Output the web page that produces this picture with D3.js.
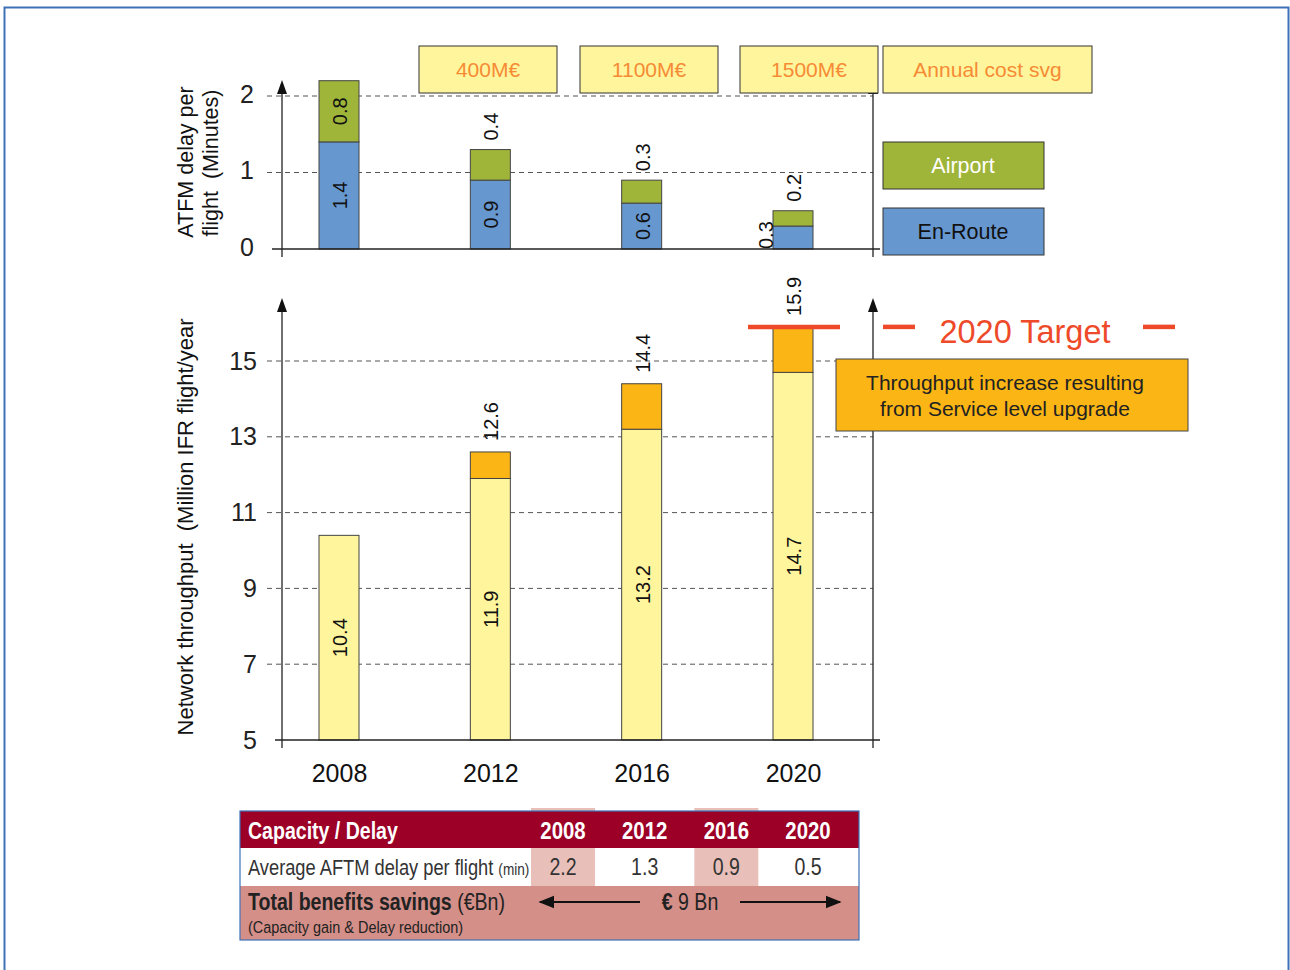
<!DOCTYPE html>
<html>
<head>
<meta charset="utf-8">
<script src="https://cdn.jsdelivr.net/npm/d3@7"></script>
<style>
  body { margin: 0; background: #fff; }
  svg text { font-family: "Liberation Sans", Arial, sans-serif; }
</style>
</head>
<body>
<div id="chart"></div>
<script>
// chart values
var years = ["2008", "2012", "2016", "2020"];
var enRoute = [1.4, 0.9, 0.6, 0.3];
var airport = [0.8, 0.4, 0.3, 0.2];
var throughputBase = [10.4, 11.9, 13.2, 14.7];
var throughputGain = [0, 0.7, 1.2, 1.2];
var target2020 = 15.9;
var costLabels = ["400M€", "1100M€", "1500M€", "Annual cost svg"];
var delayTicks = [0, 1, 2];
var throughputTicks = [5, 7, 9, 11, 13, 15];
var avgDelay = [2.2, 1.3, 0.9, 0.5];
var savingsLabel = "9 Bn";

var W = 1290, H = 970;
var cBlue = "#6797cf", cGreen = "#9fb53a", cLight = "#fff59c", cOrange = "#fbb515";
var cCost = "#f68b35", cRed = "#ee4a2a";

var svg = d3.select("#chart").append("svg")
    .attr("width", W).attr("height", H);

// outer frame
svg.append("rect")
    .attr("x", 4.5).attr("y", 7.5).attr("width", 1284).attr("height", 1000)
    .attr("fill", "none").attr("stroke", "#3d72b8").attr("stroke-width", 2);

var x = d3.scalePoint().domain(years).range([339, 793]);
var barW = 40;
var axisX = 282, axisR = 873;
var fmt = d3.format(".1f");

var defs = svg.append("defs");
defs.append("marker").attr("id", "arr")
    .attr("viewBox", "0 0 10 10").attr("refX", 9).attr("refY", 5)
    .attr("markerWidth", 8).attr("markerHeight", 8).attr("orient", "auto")
    .append("path").attr("d", "M0,1 L10,5 L0,9 Z").attr("fill", "#111");

function yAxisLine(g, yBottom, yTop, xx) {
    g.append("line").attr("x1", xx).attr("x2", xx).attr("y1", yBottom).attr("y2", yTop + 10)
        .attr("stroke", "#222").attr("stroke-width", 1.3);
    g.append("path")
        .attr("d", "M" + (xx - 5) + "," + (yTop + 14) + " L" + xx + "," + yTop + " L" + (xx + 5) + "," + (yTop + 14) + " Z")
        .attr("fill", "#111");
}

// condensed text for the table (no narrow font installed, so squeeze it)
function narrow(g, xx, yy, size) {
    return g.append("text")
        .attr("transform", "translate(" + xx + "," + yy + ") scale(0.85,1)")
        .style("font-size", size + "px");
}

// ---------------- top chart: ATFM delay ----------------
var yTop = d3.scaleLinear().domain([0, 2]).range([249, 96]);
var gTop = svg.append("g");

gTop.selectAll(".grid").data(delayTicks.filter(function (d) { return d > 0; }))
    .enter().append("line")
    .attr("x1", 267).attr("x2", axisR)
    .attr("y1", function (d) { return yTop(d); }).attr("y2", function (d) { return yTop(d); })
    .attr("stroke", "#555").attr("stroke-dasharray", "5,4").attr("stroke-width", 1);

gTop.append("g")
    .attr("transform", "translate(257,-2)")
    .call(d3.axisLeft(yTop).tickValues(delayTicks).tickSize(0).tickFormat(d3.format("d")))
    .call(function (g) { g.select(".domain").remove(); })
    .selectAll("text")
    .style("font-size", "25px").attr("fill", "#222")
    .style("font-family", "'Liberation Sans', Arial, sans-serif");

var delayData = years.map(function (y, i) {
    return {year: y, en: enRoute[i], ap: airport[i]};
});

var dg = gTop.selectAll(".dbar").data(delayData).enter().append("g");
dg.append("rect")
    .attr("x", function (d) { return x(d.year) - barW / 2; })
    .attr("y", function (d) { return yTop(d.en); })
    .attr("width", barW)
    .attr("height", function (d) { return yTop(0) - yTop(d.en); })
    .attr("fill", cBlue).attr("stroke", "#444").attr("stroke-width", 1);
dg.append("rect")
    .attr("x", function (d) { return x(d.year) - barW / 2; })
    .attr("y", function (d) { return yTop(d.en + d.ap); })
    .attr("width", barW)
    .attr("height", function (d) { return yTop(d.en) - yTop(d.en + d.ap); })
    .attr("fill", cGreen).attr("stroke", "#444").attr("stroke-width", 1);

// en-route labels: inside when there is room, else next to the bar
dg.append("text")
    .attr("transform", function (d) {
        var h = yTop(0) - yTop(d.en);
        if (h > 40) return "translate(" + (x(d.year) + 1) + "," + (yTop(d.en / 2)) + ") rotate(-90)";
        return "translate(" + (x(d.year) - barW / 2 - 7) + "," + yTop(0) + ") rotate(-90)";
    })
    .attr("text-anchor", function (d) { return (yTop(0) - yTop(d.en)) > 40 ? "middle" : "start"; })
    .attr("dominant-baseline", "central")
    .style("font-size", "20px").attr("fill", "#111")
    .text(function (d) { return fmt(d.en); });

// airport labels
dg.append("text")
    .attr("transform", function (d) {
        var h = yTop(d.en) - yTop(d.en + d.ap);
        if (h > 40) return "translate(" + (x(d.year) + 1) + "," + yTop(d.en + d.ap / 2) + ") rotate(-90)";
        return "translate(" + (x(d.year) + 1) + "," + (yTop(d.en + d.ap) - 9) + ") rotate(-90)";
    })
    .attr("text-anchor", function (d) { return (yTop(d.en) - yTop(d.en + d.ap)) > 40 ? "middle" : "start"; })
    .attr("dominant-baseline", "central")
    .style("font-size", "20px").attr("fill", "#111")
    .text(function (d) { return fmt(d.ap); });

// baseline + axes
gTop.append("line").attr("x1", 272).attr("x2", 880).attr("y1", yTop(0)).attr("y2", yTop(0))
    .attr("stroke", "#222").attr("stroke-width", 1.3);
yAxisLine(gTop, 257, 80, axisX);
yAxisLine(gTop, 257, 80, axisR);

gTop.append("text")
    .attr("transform", "translate(193,162) rotate(-90)")
    .attr("text-anchor", "middle").style("font-size", "21.5px").attr("fill", "#111")
    .text("ATFM delay per");
gTop.append("text")
    .attr("transform", "translate(218,163) rotate(-90)")
    .attr("text-anchor", "middle").style("font-size", "21.5px").attr("fill", "#111")
    .attr("xml:space", "preserve")
    .text("flight  (Minutes)");

// annual cost boxes
var costBoxes = [
    {x: 419, w: 138}, {x: 580, w: 138}, {x: 740, w: 138}, {x: 883, w: 209}
];
var cb = gTop.selectAll(".cost").data(costLabels).enter().append("g");
cb.append("rect")
    .attr("x", function (d, i) { return costBoxes[i].x; }).attr("y", 46)
    .attr("width", function (d, i) { return costBoxes[i].w; }).attr("height", 47)
    .attr("fill", cLight).attr("stroke", "#333").attr("stroke-width", 1);
cb.append("text")
    .attr("x", function (d, i) { return costBoxes[i].x + costBoxes[i].w / 2; }).attr("y", 77)
    .attr("text-anchor", "middle").style("font-size", "21px").attr("fill", cCost)
    .text(function (d) { return d; });

// legend
var legend = [{name: "Airport", fill: cGreen, text: "#fff", y: 142}, {name: "En-Route", fill: cBlue, text: "#111", y: 208}];
var lg = gTop.selectAll(".leg").data(legend).enter().append("g");
lg.append("rect").attr("x", 883).attr("y", function (d) { return d.y; })
    .attr("width", 161).attr("height", 47)
    .attr("fill", function (d) { return d.fill; }).attr("stroke", "#333").attr("stroke-width", 1);
lg.append("text").attr("x", 963).attr("y", function (d) { return d.y + 31; })
    .attr("text-anchor", "middle").style("font-size", "21.5px")
    .attr("fill", function (d) { return d.text; })
    .text(function (d) { return d.name; });

// ---------------- bottom chart: throughput ----------------
var yBot = d3.scaleLinear().domain([5, 15]).range([740, 361]);
var bot = svg.append("g");

bot.selectAll(".grid").data(throughputTicks.filter(function (d) { return d > 5; }))
    .enter().append("line")
    .attr("x1", 267).attr("x2", axisR)
    .attr("y1", function (d) { return yBot(d); }).attr("y2", function (d) { return yBot(d); })
    .attr("stroke", "#555").attr("stroke-dasharray", "5,4").attr("stroke-width", 1);

bot.append("g")
    .attr("transform", "translate(260,0)")
    .call(d3.axisLeft(yBot).tickValues(throughputTicks).tickSize(0).tickFormat(d3.format("d")))
    .call(function (g) { g.select(".domain").remove(); })
    .selectAll("text")
    .style("font-size", "25px").attr("fill", "#222")
    .style("font-family", "'Liberation Sans', Arial, sans-serif");

var tpData = years.map(function (y, i) {
    return {year: y, base: throughputBase[i], gain: throughputGain[i]};
});
var tg = bot.selectAll(".tbar").data(tpData).enter().append("g");
tg.append("rect")
    .attr("x", function (d) { return x(d.year) - barW / 2; })
    .attr("y", function (d) { return yBot(d.base); })
    .attr("width", barW)
    .attr("height", function (d) { return yBot(5) - yBot(d.base); })
    .attr("fill", cLight).attr("stroke", "#444").attr("stroke-width", 1);
tg.filter(function (d) { return d.gain > 0; }).append("rect")
    .attr("x", function (d) { return x(d.year) - barW / 2; })
    .attr("y", function (d) { return yBot(d.base + d.gain); })
    .attr("width", barW)
    .attr("height", function (d) { return yBot(d.base) - yBot(d.base + d.gain); })
    .attr("fill", cOrange).attr("stroke", "#444").attr("stroke-width", 1);
tg.append("text")
    .attr("transform", function (d) {
        return "translate(" + (x(d.year) + 1) + "," + yBot((d.base + 5) / 2) + ") rotate(-90)";
    })
    .attr("text-anchor", "middle").attr("dominant-baseline", "central")
    .style("font-size", "20px").attr("fill", "#111")
    .text(function (d) { return fmt(d.base); });
tg.filter(function (d) { return d.gain > 0; }).append("text")
    .attr("transform", function (d) {
        return "translate(" + (x(d.year) + 1) + "," + (yBot(d.base + d.gain) - 11) + ") rotate(-90)";
    })
    .attr("text-anchor", "start").attr("dominant-baseline", "central")
    .style("font-size", "20px").attr("fill", "#111")
    .text(function (d) { return fmt(d.base + d.gain); });

bot.append("line").attr("x1", 275).attr("x2", 880).attr("y1", yBot(5)).attr("y2", yBot(5))
    .attr("stroke", "#222").attr("stroke-width", 1.3);
yAxisLine(bot, 748, 298, axisX);
yAxisLine(bot, 748, 298, axisR);

// x axis labels
bot.append("g")
    .attr("transform", "translate(0,761)")
    .call(d3.axisBottom(x).tickSize(0))
    .call(function (g) { g.select(".domain").remove(); })
    .selectAll("text")
    .style("font-size", "25px").attr("fill", "#111")
    .style("font-family", "'Liberation Sans', Arial, sans-serif");

bot.append("text")
    .attr("transform", "translate(193,527) rotate(-90)")
    .attr("text-anchor", "middle").style("font-size", "22px").attr("fill", "#111")
    .attr("xml:space", "preserve")
    .text("Network throughput  (Million IFR flight/year");

// 2020 target
var tY = yBot(target2020);
bot.append("line").attr("x1", 748).attr("x2", 840).attr("y1", tY).attr("y2", tY)
    .attr("stroke", cRed).attr("stroke-width", 4.5);
bot.append("line").attr("x1", 883).attr("x2", 915).attr("y1", tY).attr("y2", tY)
    .attr("stroke", cRed).attr("stroke-width", 4.5);
bot.append("line").attr("x1", 1143).attr("x2", 1175).attr("y1", tY).attr("y2", tY)
    .attr("stroke", cRed).attr("stroke-width", 4.5);
bot.append("text").attr("x", 1025).attr("y", tY + 16)
    .attr("text-anchor", "middle").style("font-size", "32.5px").attr("fill", cRed)
    .text("2020 Target");

// gain note
bot.append("rect").attr("x", 836).attr("y", 359).attr("width", 352).attr("height", 72)
    .attr("fill", cOrange).attr("stroke", "#444").attr("stroke-width", 1);
bot.append("text").attr("x", 1005).attr("y", 390)
    .attr("text-anchor", "middle").style("font-size", "21px").attr("fill", "#222")
    .text("Throughput increase resulting");
bot.append("text").attr("x", 1005).attr("y", 416)
    .attr("text-anchor", "middle").style("font-size", "21px").attr("fill", "#222")
    .text("from Service level upgrade");

// ---------------- table ----------------
var tb = svg.append("g");
var colX = d3.scalePoint().domain(years).range([563, 808]);
var tL = 240, tR = 859, tTop = 811;
var pinkCols = ["2008", "2016"];

tb.selectAll(".pk").data(pinkCols).enter().append("rect")
    .attr("x", function (d) { return colX(d) - 32; }).attr("y", 808)
    .attr("width", 64).attr("height", 78).attr("fill", "#e8c0b9");
tb.append("rect").attr("x", tL).attr("y", tTop).attr("width", tR - tL).attr("height", 37)
    .attr("fill", "#9c0027");
tb.append("rect").attr("x", tL).attr("y", 886).attr("width", tR - tL).attr("height", 54)
    .attr("fill", "#d48f88");
tb.append("rect").attr("x", tL).attr("y", tTop).attr("width", tR - tL).attr("height", 129)
    .attr("fill", "none").attr("stroke", "#3d72b8").attr("stroke-width", 1.2);

narrow(tb, 248, 839, 23).style("font-weight", "bold").attr("fill", "#fff")
    .text("Capacity / Delay");
years.forEach(function (y) {
    narrow(tb, colX(y), 839, 24).attr("text-anchor", "middle").style("font-weight", "bold")
        .attr("fill", "#fff").text(y);
});

var r2 = narrow(tb, 248, 875, 21.5).attr("fill", "#333");
r2.append("tspan").text("Average AFTM delay per flight ");
r2.append("tspan").style("font-size", "16px").text("(min)");
avgDelay.forEach(function (v, i) {
    narrow(tb, colX(years[i]), 875, 23).attr("text-anchor", "middle").attr("fill", "#333")
        .text(fmt(v));
});

var r3 = narrow(tb, 248, 910, 23).attr("fill", "#222");
r3.append("tspan").style("font-weight", "bold").text("Total benefits savings ");
r3.append("tspan").text("(€Bn)");
narrow(tb, 248, 933, 17).attr("fill", "#222")
    .text("(Capacity gain & Delay reduction)");

var sv = narrow(tb, 690, 910, 23).attr("text-anchor", "middle").attr("fill", "#222");
sv.append("tspan").style("font-weight", "bold").text("€ ");
sv.append("tspan").text(savingsLabel);

tb.append("line").attr("x1", 640).attr("x2", 540).attr("y1", 902).attr("y2", 902)
    .attr("stroke", "#111").attr("stroke-width", 2).attr("marker-end", "url(#arr)");
tb.append("line").attr("x1", 740).attr("x2", 840).attr("y1", 902).attr("y2", 902)
    .attr("stroke", "#111").attr("stroke-width", 2).attr("marker-end", "url(#arr)");
</script>
</body>
</html>
